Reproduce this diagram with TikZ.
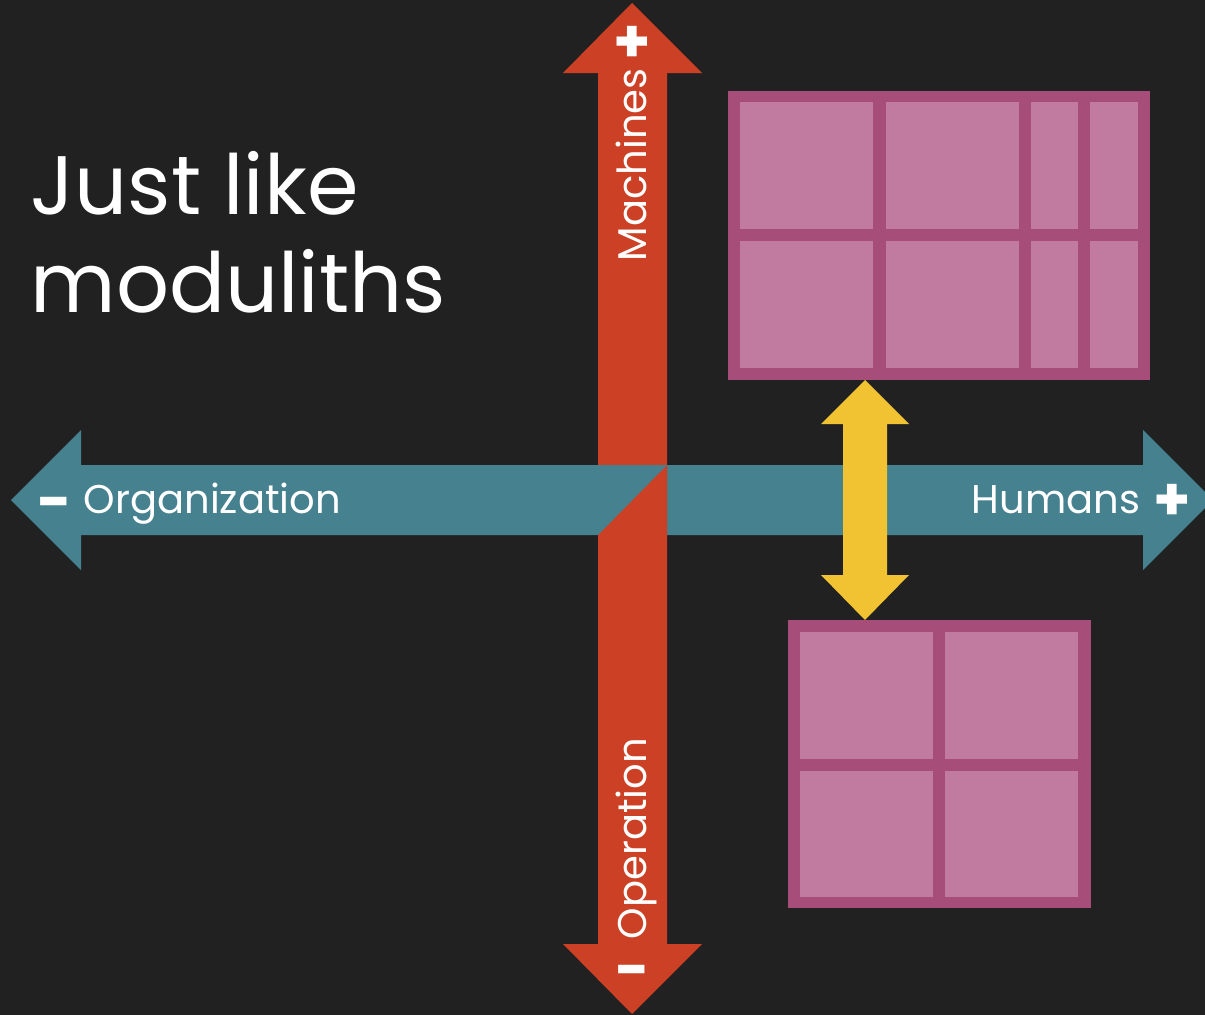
\documentclass[tikz,border=0pt]{standalone}
\usepackage{fontspec}
\setmainfont{Poppins}
\definecolor{bgdark}{HTML}{212121}
\definecolor{axisred}{HTML}{CC4125}
\definecolor{axisteal}{HTML}{45818E}
\definecolor{modborder}{HTML}{A64D79}
\definecolor{modcell}{HTML}{C27BA0}
\definecolor{linkyellow}{HTML}{F1C232}

\begin{document}
\begin{tikzpicture}[x=0.01cm, y=-0.01cm,
  axistext/.style={text=white, inner sep=0pt, font=\fontsize{11.4}{13}\selectfont},
  signtext/.style={text=white, inner sep=0pt, font=\fontsize{17}{18}\selectfont\bfseries},
  titletext/.style={text=white, inner sep=0pt, anchor=base west, font=\fontsize{23.6}{26}\selectfont}]
\fill[bgdark] (0,0) rectangle (1205,1015);
\clip (0,0) rectangle (1205,1015);

% horizontal axis
\fill[axisteal] (11,500) -- (81,430) -- (81,465) -- (1143,465) -- (1143,430) -- (1213,500)
  -- (1143,570) -- (1143,535) -- (81,535) -- (81,570) -- cycle;
% vertical axis
\fill[axisred] (632,3) -- (702,73) -- (667,73) -- (667,944) -- (702,944) -- (632,1014)
  -- (563,944) -- (598,944) -- (598,73) -- (563,73) -- cycle;
\fill[axisteal] (598,465) -- (667,465) -- (598,535) -- cycle;

% axis labels
\node[axistext, rotate=90, anchor=base west] (machines) at (646,262) {Machines};
\node[axistext, rotate=90, anchor=base west] (operation) at (646,940) {Operation};
\node[axistext, anchor=base west] (organization) at (83,513) {Organization};
\node[axistext, anchor=base east] (humans) at (1141,513) {Humans};
\node[signtext] (mplus) at (632,44) {+};
\node[signtext] (ominus) at (632,978) {−};
\node[signtext] (orgminus) at (54,510) {−};
\node[signtext] (hplus) at (1172,502) {+};

% title
\node[titletext] (title) at (30,215) {Just like};
\node[titletext] (title2) at (30,312) {moduliths};

% big modulith
\fill[modborder] (728,91) rectangle (1150,380);
\fill[modcell] (740,102) rectangle (873,229);
\fill[modcell] (886,102) rectangle (1019,229);
\fill[modcell] (1031,102) rectangle (1078,229);
\fill[modcell] (1090,102) rectangle (1138,229);
\fill[modcell] (740,241) rectangle (873,368);
\fill[modcell] (886,241) rectangle (1019,368);
\fill[modcell] (1031,241) rectangle (1078,368);
\fill[modcell] (1090,241) rectangle (1138,368);

% small modulith
\fill[modborder] (788,620) rectangle (1091,908);
\fill[modcell] (800,632) rectangle (933,759);
\fill[modcell] (945,632) rectangle (1078,759);
\fill[modcell] (800,771) rectangle (933,897);
\fill[modcell] (945,771) rectangle (1078,897);

% link
\fill[linkyellow] (865,380) -- (909,424) -- (887,424) -- (887,575) -- (909,575) -- (865,620)
  -- (821,575) -- (843,575) -- (843,424) -- (821,424) -- cycle;
\end{tikzpicture}
\end{document}
